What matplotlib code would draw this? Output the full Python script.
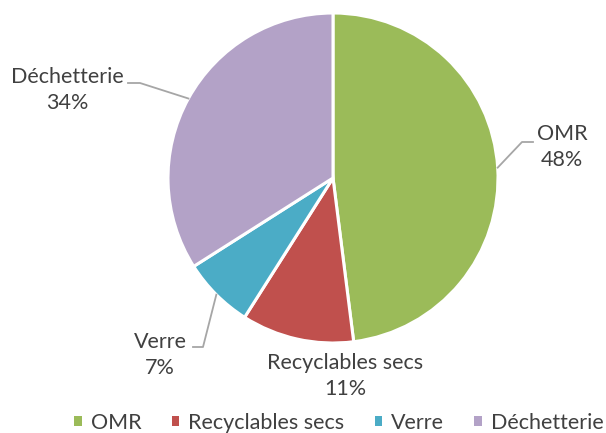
import matplotlib.pyplot as plt
import numpy as np
from matplotlib.patches import Patch

plt.rcParams['font.family'] = ['Lato', 'DejaVu Sans']

categories = ['OMR', 'Recyclables secs', 'Verre', 'Déchetterie']
shares = [48, 11, 7, 34]
colors = ['#9BBB59', '#C0504D', '#4BACC6', '#B3A2C7']

TXT = '#404040'
LINE = '#A6A6A6'

W, H = 606, 433
fig = plt.figure(figsize=(6.06, 4.33), dpi=100)
ax = fig.add_axes([0, 0, 1, 1])

cx, cy, r = 333, H - 178, 165
wedges, _ = ax.pie(shares, colors=colors, startangle=90, counterclock=False,
                   center=(cx, cy), radius=r, frame=True,
                   wedgeprops=dict(edgecolor='white', linewidth=2.2))
ax.set_xlim(0, W)
ax.set_ylim(0, H)
ax.set_aspect('equal')
ax.axis('off')

# label centre (px from top) and leader elbow / end points
label_pos = {'OMR': (562, 147), 'Recyclables secs': (345, 376),
             'Verre': (160, 355), 'Déchetterie': (67, 90)}
leaders = {'OMR': [(522, 142), (533, 142)],
           'Verre': [(203, 347), (193, 347)],
           'Déchetterie': [(140, 83), (128, 83)]}

for w, cat, s in zip(wedges, categories, shares):
    x, y = label_pos[cat]
    ax.text(x, H - y, f'{cat}\n{s}%', ha='center', va='center',
            fontsize=15.5, color=TXT, linespacing=1.4)
    if cat in leaders:
        mid = np.deg2rad((w.theta1 + w.theta2) / 2)
        px, py = cx + r * np.cos(mid), cy + r * np.sin(mid)
        xs = [px] + [p[0] for p in leaders[cat]]
        ys = [py] + [H - p[1] for p in leaders[cat]]
        ax.plot(xs, ys, color=LINE, lw=1.3)

handles = [Patch(facecolor=c, edgecolor='none') for c in colors]
fig.legend(handles, categories, loc='center', bbox_to_anchor=(339 / W, 1 - 423 / H),
           ncol=4, frameon=False, fontsize=15.5, labelcolor=TXT,
           handlelength=0.35, handleheight=0.35, handletextpad=0.42,
           columnspacing=1.4, borderpad=0, borderaxespad=0)

fig.savefig('out.png', dpi=100)
